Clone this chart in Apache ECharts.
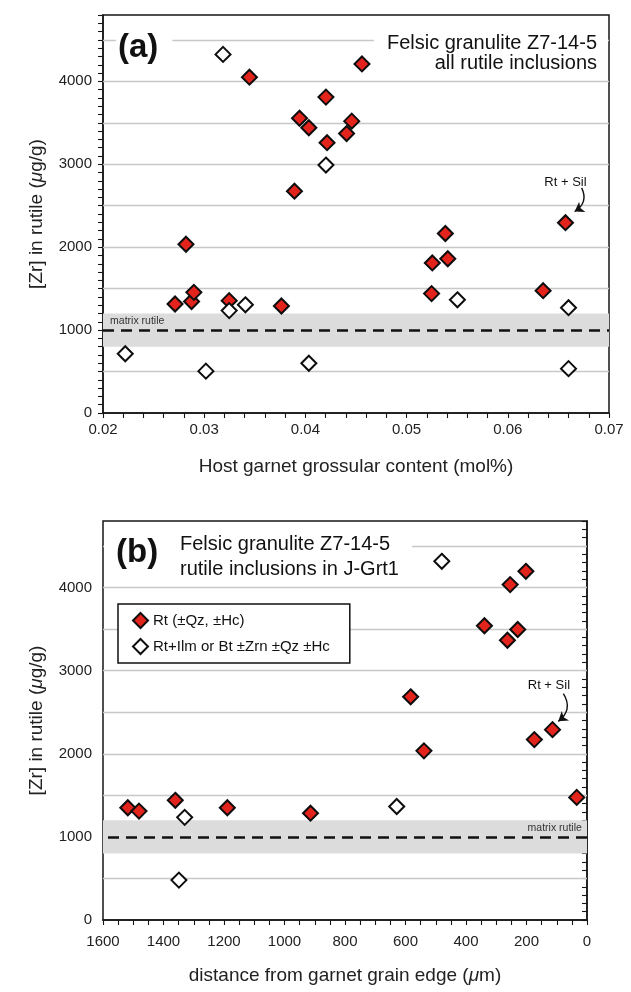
<!DOCTYPE html>
<html><head><meta charset="utf-8">
<script src="https://cdn.jsdelivr.net/npm/echarts@6/dist/echarts.min.js"></script>
<style>html,body{margin:0;padding:0;background:#fff}#c{width:631px;height:992px}</style>
</head><body><div id="c"></div>
<script>
// ---------- data ----------
// Panel (a): host garnet grossular content (mol%) vs [Zr] in rutile (µg/g)
const aRedX = [0.03447, 0.04559, 0.04203, 0.03942, 0.04034, 0.04458, 0.04407, 0.04214, 0.03892, 0.0282, 0.02712, 0.02875, 0.02898, 0.03247, 0.03763, 0.05254, 0.05383, 0.05407, 0.05247, 0.06349, 0.0657];
const aRedY = [4050, 4210, 3810, 3555, 3440, 3520, 3370, 3260, 2675, 2035, 1315, 1345, 1455, 1355, 1290, 1810, 2165, 1860, 1440, 1475, 2295];
const aOpenX = [0.03186, 0.04203, 0.03247, 0.03407, 0.0222, 0.03017, 0.04034, 0.05502, 0.066, 0.066];
const aOpenY = [4325, 2990, 1235, 1305, 715, 505, 600, 1365, 1270, 535];
// Panel (b): distance from garnet grain edge (µm) vs [Zr] in rutile (µg/g)
const bRedX = [202, 254, 339, 229, 263, 583, 539, 174, 114, 34, 1518, 1481, 1361, 1189, 914];
const bRedY = [4195, 4035, 3540, 3495, 3365, 2685, 2035, 2170, 2290, 1475, 1350, 1310, 1440, 1350, 1285];
const bOpenX = [480, 1330, 1349, 629];
const bOpenY = [4315, 1235, 480, 1365];
// reference lines
const gridVals = [500, 1000, 1500, 2000, 2500, 3000, 3500, 4000, 4500];
const matrixValue = 1000;
const matrixBand = [800, 1200];
// annotations (data coordinates)
const aSilText = [0.0657, 2780];
const aSilArrow = [[0.0673, 2715], [0.0666, 2430]];
const bSilText = [126, 2820];
const bSilArrow = [[78, 2724], [95, 2390]];
const aMatrixLabel = [0.0207, 1110];
const bMatrixLabel = [17, 1108];
const seriesNames = ['Rt (±Qz, ±Hc)', 'Rt+Ilm or Bt ±Zrn ±Qz ±Hc'];

// ---------- styling ----------
const FONT = '"Liberation Sans", Arial, Helvetica, sans-serif';
const INK = '#161616';
const RED = '#e3241c';
const zip = (xs, ys) => xs.map((x, i) => [x, ys[i]]);

function yAxis(gi) {
  return {
    gridIndex: gi, type: 'value', min: 0, max: 4800, interval: 100,
    axisLine: { show: true, lineStyle: { color: INK, width: 1.5 } },
    axisTick: { show: true, length: 5, lineStyle: { color: INK, width: 1.1 } },
    axisLabel: { formatter: v => (v % 1000 === 0 ? String(v) : ''), margin: 11, color: '#222', fontSize: 15, fontFamily: FONT },
    splitLine: { show: false },
    name: '[Zr] in rutile ({i|μ}g/g)', nameLocation: 'middle', nameGap: 57, nameRotate: 90,
    nameTextStyle: { fontSize: 19, color: '#222', fontFamily: FONT, rich: { i: { fontStyle: 'italic', fontSize: 19, color: '#222', fontFamily: FONT } } }
  };
}

function helperSeries(gi, textPt, arrow, mLabel, mAlignRight) {
  return [
    { // matrix rutile band
      type: 'scatter', xAxisIndex: gi, yAxisIndex: gi, data: [], z: 1, silent: true,
      markArea: { silent: true, z: 1, itemStyle: { color: '#dcdcdc' }, data: [[{ yAxis: matrixBand[0] }, { yAxis: matrixBand[1] }]] }
    },
    { // grid lines
      type: 'scatter', xAxisIndex: gi, yAxisIndex: gi, data: [], z: 2, silent: true,
      markLine: { silent: true, z: 2, symbol: ['none', 'none'], label: { show: false }, animation: false,
        lineStyle: { color: '#c8c8c8', width: 1.4, type: 'solid' },
        data: gridVals.filter(v => v < matrixBand[0] || v > matrixBand[1]).map(v => ({ yAxis: v })) }
    },
    { // dashed matrix line + labels
      type: 'scatter', xAxisIndex: gi, yAxisIndex: gi, data: [], z: 3, silent: true,
      markLine: { silent: true, z: 3, animation: false, label: { show: false }, symbol: ['none', 'none'],
        lineStyle: { color: '#111', width: 2.6, type: [11, 7] },
        data: [{ yAxis: matrixValue }] },
      markPoint: { silent: true, z: 3, animation: false, symbol: 'circle', symbolSize: 0,
        data: [
          { coord: textPt, value: 0, label: { show: true, position: 'inside', formatter: 'Rt + Sil', color: '#111', fontSize: 13, fontFamily: FONT } },
          { coord: mLabel, value: 0, label: { show: true, position: mAlignRight ? 'left' : 'right', distance: 0, formatter: 'matrix rutile', color: '#333', fontSize: 10.5, fontFamily: FONT } }
        ]
      }
    },
    { // curved arrow
      type: 'lines', coordinateSystem: 'cartesian2d', xAxisIndex: gi, yAxisIndex: gi, z: 3, silent: true,
      symbol: ['none', 'arrow'], symbolSize: [6, 9],
      lineStyle: { color: '#111', width: 1.4, opacity: 1, curveness: 0.45 },
      data: [{ coords: arrow }]
    }
  ];
}

function pts(gi, name, xs, ys, filled) {
  return {
    type: 'scatter', name: name, xAxisIndex: gi, yAxisIndex: gi, z: 5,
    symbol: 'diamond', symbolSize: 15,
    itemStyle: { color: filled ? RED : '#ffffff', borderColor: '#0d0d0d', borderWidth: 2, opacity: 1 },
    emphasis: { disabled: true },
    data: zip(xs, ys)
  };
}

const option = {
  animation: false,
  backgroundColor: '#ffffff',
  textStyle: { fontFamily: FONT },
  grid: [
    { left: 103, right: 22, top: 15, bottom: 579, show: true, borderColor: INK, borderWidth: 1.5, backgroundColor: 'transparent' },
    { left: 103, right: 44, top: 521, bottom: 72, show: true, borderColor: INK, borderWidth: 1.5, backgroundColor: 'transparent' }
  ],
  xAxis: [
    { gridIndex: 0, type: 'value', min: 0.02, max: 0.07, interval: 0.002,
      axisLine: { show: true, lineStyle: { color: INK, width: 1.5 } },
      axisTick: { show: true, length: 5, lineStyle: { color: INK, width: 1.1 } },
      axisLabel: { formatter: v => (Math.abs(v * 100 - Math.round(v * 100)) < 1e-6 ? v.toFixed(2) : ''), margin: 9, color: '#222', fontSize: 15, fontFamily: FONT },
      splitLine: { show: false },
      name: 'Host garnet grossular content (mol%)', nameLocation: 'middle', nameGap: 44,
      nameTextStyle: { fontSize: 19, color: '#222', fontFamily: FONT } },
    { gridIndex: 1, type: 'value', min: 0, max: 1600, interval: 50, inverse: true,
      axisLine: { show: true, lineStyle: { color: INK, width: 1.5 } },
      axisTick: { show: true, length: 5, lineStyle: { color: INK, width: 1.1 } },
      axisLabel: { formatter: v => (v % 200 === 0 ? String(v) : ''), margin: 14, color: '#222', fontSize: 15, fontFamily: FONT },
      splitLine: { show: false },
      name: 'distance from garnet grain edge ({i|μ}m)', nameLocation: 'middle', nameGap: 46,
      nameTextStyle: { fontSize: 19, color: '#222', fontFamily: FONT, rich: { i: { fontStyle: 'italic', fontSize: 19, color: '#222', fontFamily: FONT } } } }
  ],
  yAxis: [yAxis(0), yAxis(1)],
  legend: {
    left: 118, top: 604, orient: 'vertical', padding: [8, 20, 8, 14], itemGap: 9,
    itemWidth: 15, itemHeight: 15, borderColor: '#111', borderWidth: 1.5, borderRadius: 0,
    backgroundColor: '#ffffff', selectedMode: false, z: 6,
    textStyle: { fontSize: 15, color: '#111', fontFamily: FONT },
    data: seriesNames
  },
  graphic: [
    { type: 'text', x: 116, y: 48, z: 10, style: { text: '(a)', font: 'bold 33px ' + FONT, fill: '#111', textVerticalAlign: 'middle', align: 'left', backgroundColor: '#fff', padding: [2, 14, 2, 2] } },
    { type: 'text', x: 608, y: 53, z: 10, style: { text: 'Felsic granulite Z7-14-5\nall rutile inclusions', font: '20px ' + FONT, lineHeight: 20, fill: '#111', textVerticalAlign: 'middle', align: 'right', backgroundColor: '#fff', padding: [2, 11, 2, 13] } },
    { type: 'text', x: 104, y: 553, z: 10, style: { text: '(b)', font: 'bold 33px ' + FONT, fill: '#111', textVerticalAlign: 'middle', align: 'left', backgroundColor: '#fff', padding: [2, 22, 2, 12] } },
    { type: 'text', x: 180, y: 557, z: 10, style: { text: 'Felsic granulite Z7-14-5\nrutile inclusions in J-Grt1', font: '20px ' + FONT, lineHeight: 25, fill: '#111', textVerticalAlign: 'middle', align: 'left', backgroundColor: '#fff', padding: [0, 13, 0, 0] } }
  ],
  series: [
    ...helperSeries(0, aSilText, aSilArrow, aMatrixLabel, false),
    ...helperSeries(1, bSilText, bSilArrow, bMatrixLabel, true),
    pts(0, seriesNames[0], aRedX, aRedY, true),
    pts(0, seriesNames[1], aOpenX, aOpenY, false),
    pts(1, seriesNames[0], bRedX, bRedY, true),
    pts(1, seriesNames[1], bOpenX, bOpenY, false)
  ]
};

const chart = echarts.init(document.getElementById('c'), null, { renderer: 'canvas' });
chart.setOption(option);
</script>
</body></html>
